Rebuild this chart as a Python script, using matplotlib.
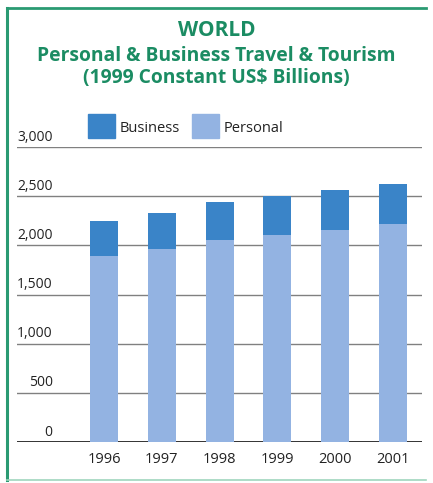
import matplotlib.pyplot as plt
from matplotlib.patches import Rectangle
from matplotlib.lines import Line2D
from matplotlib.transforms import blended_transform_factory

plt.rcParams['font.family'] = ['Open Sans', 'DejaVu Sans']

# Spending in 1999 constant US$ billions
years = ['1996', '1997', '1998', '1999', '2000', '2001']
personal = [1890, 1961, 2056, 2104, 2151, 2212]
business = [356, 369, 383, 396, 410, 413]
y_ticks = [0, 500, 1000, 1500, 2000, 2500, 3000]
y_tick_labels = ['0', '500', '1,000', '1,500', '2,000', '2,500', '3,000']

green = '#1b8c63'
col_business = '#3a84c8'
col_personal = '#93b3e2'

W, H = 433, 483
fig = plt.figure(figsize=(W / 100, H / 100), dpi=100)
fig.patch.set_facecolor('white')

ax = fig.add_axes([17 / W, 1 - 442 / H, 405 / W, (442 - 147) / H])
x = list(range(len(years)))

# gridlines first so the bars sit on top of them
for t in y_ticks:
    if t == 0:
        ax.axhline(t, color='#333333', lw=1.4, zorder=1)
    else:
        ax.axhline(t, color='#808080', lw=1.0, zorder=1)

ax.bar(x, personal, width=0.485, color=col_personal, zorder=2)
ax.bar(x, business, width=0.485, bottom=personal, color=col_business, zorder=2)

ax.set_xlim(-1.505, 5.5)
ax.set_ylim(0, 3000)
for s in ax.spines.values():
    s.set_visible(False)
ax.set_yticks([])
ax.set_xticks(x)
ax.set_xticklabels(years, fontsize=10.5, color='#222222')
ax.tick_params(axis='x', length=0, pad=7)
ax.patch.set_alpha(0)

# value labels sit just above each gridline
tr = blended_transform_factory(ax.transAxes, ax.transData)
for t, lab in zip(y_ticks, y_tick_labels):
    ax.text(0.088, t + 25, lab, transform=tr, ha='right', va='bottom',
            fontsize=10, color='#222222')

# title block
fig.text(0.5, 1 - 31 / H, 'WORLD', ha='center', va='center',
         fontsize=15, fontweight='bold', color=green)
fig.text(0.5, 1 - 56 / H, 'Personal & Business Travel & Tourism', ha='center',
         va='center', fontsize=13.9, fontweight='bold', color=green)
fig.text(0.5, 1 - 78 / H, '(1999 Constant US$ Billions)', ha='center',
         va='center', fontsize=13.9, fontweight='bold', color=green)

# legend
for x0, col, lab in [(88, col_business, 'Business'), (192, col_personal, 'Personal')]:
    fig.patches.append(Rectangle((x0 / W, 1 - 138 / H), 27 / W, 24 / H,
                                 transform=fig.transFigure, color=col))
    fig.text((x0 + 32) / W, 1 - 129 / H, lab, ha='left', va='center',
             fontsize=10.5, color='#222222')

# green frame: left, top and bottom edges only
fx0, fx1 = 7 / W, 426 / W
fy0, fy1 = 1 - 480 / H, 1 - 8 / H
fig.lines.append(Line2D([fx0, fx0], [fy0, fy1], transform=fig.transFigure,
                        color='#2a9a72', lw=2.2))
fig.lines.append(Line2D([fx0, fx1], [fy1, fy1], transform=fig.transFigure,
                        color='#2a9a72', lw=2))
fig.lines.append(Line2D([fx0, fx1], [fy0, fy0], transform=fig.transFigure,
                        color='#9fd6bd', lw=1.2))

fig.savefig('out.png', dpi=100)
